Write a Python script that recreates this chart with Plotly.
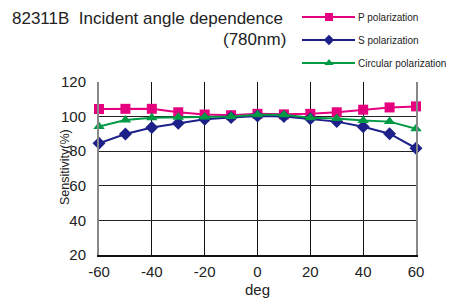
import plotly.graph_objects as go

VW, VH = 454, 303   # browser window
OFF = 8             # page body margin offset in the browser
W, H = VW - OFF, VH - OFF
angles = [-60, -50, -40, -30, -20, -10, 0, 10, 20, 30, 40, 50, 60]
p_pol = [104.4, 104.5, 104.5, 102.5, 101.2, 100.8, 101.6, 101.3, 101.6, 102.5, 104.0, 105.3, 105.9]
s_pol = [84.6, 89.9, 93.7, 96.2, 98.5, 99.5, 100.3, 100.1, 98.7, 97.1, 94.1, 90.1, 81.7]
c_pol = [94.3, 98.0, 99.3, 99.6, 99.8, 100.0, 101.0, 101.0, 99.4, 98.9, 97.7, 97.1, 93.0]
series_names = ["P polarization", "S polarization", "Circular polarization"]
colors = ["#E4007F", "#1D2088", "#009944"]
symbols = ["square", "diamond", "triangle-up"]
msizes = [10, 10, 10]
x_ticks = [-60, -40, -20, 0, 20, 40, 60]
x_ticktext = ["-60", "-40", "-20", "0", "20", "40", "60"]
y_ticks = [20, 40, 60, 80, 100, 120]

FONT = "Liberation Sans, Arial, sans-serif"

fig = go.Figure()
for name, vals, c, s, ms in zip(series_names, [p_pol, s_pol, c_pol], colors, symbols, msizes):
    fig.add_trace(go.Scatter(x=angles, y=vals, mode="lines+markers", name=name,
                             line=dict(color=c, width=2), marker=dict(symbol=s, size=ms, color=c),
                             showlegend=False, cliponaxis=False))

# legend samples on a full-figure pixel axis (screen coordinates)
leg_y = [17, 40, 63]
for name, c, s, ms, ly in zip(series_names, colors, symbols, msizes, leg_y):
    fig.add_trace(go.Scatter(x=[302, 355], y=[ly, ly], mode="lines", line=dict(color=c, width=2),
                             xaxis="x2", yaxis="y2", showlegend=False, hoverinfo="skip"))
    fig.add_trace(go.Scatter(x=[329], y=[ly], mode="markers", marker=dict(symbol=s, size=8, color=c),
                             xaxis="x2", yaxis="y2", showlegend=False, hoverinfo="skip"))
    fig.add_annotation(x=357, y=ly, xref="x2", yref="y2", text=name, showarrow=False,
                       xanchor="left", yanchor="middle", borderpad=0,
                       font=dict(family=FONT, size=10, color="#222"))

fig.add_annotation(x=11, y=OFF, xref="x2", yref="y2", text="82311B  Incident angle dependence",
                   showarrow=False, xanchor="left", yanchor="top", borderpad=0,
                   font=dict(family=FONT, size=17, color="#222"))
fig.add_annotation(x=288, y=47, xref="x2", yref="y2", text="(780nm)",
                   showarrow=False, xanchor="right", yanchor="bottom", yshift=-4,
                   font=dict(family=FONT, size=17, color="#222"))
fig.add_annotation(x=65, y=167, xref="x2", yref="y2", text="Sensitivity(%)", textangle=-90,
                   showarrow=False, xanchor="center", yanchor="middle",
                   font=dict(family=FONT, size=12.5, color="#222"))
fig.add_annotation(x=257, y=289, xref="x2", yref="y2", text="deg",
                   showarrow=False, xanchor="center", yanchor="middle",
                   font=dict(family=FONT, size=15, color="#222"))

x0, x1 = 99, 416
y0, y1 = 82, 255
fig.update_layout(
    template="none",
    width=W, height=H, margin=dict(l=0, r=0, t=0, b=0, pad=0), autosize=False,
    paper_bgcolor="white", plot_bgcolor="rgba(0,0,0,0)",
    font=dict(family=FONT, size=15, color="#222"),
    xaxis=dict(domain=[(x0 - OFF) / W, (x1 - OFF) / W], range=[-60, 60], tickvals=x_ticks,
               ticktext=x_ticktext,
               showgrid=True, gridcolor="#111", gridwidth=1, zeroline=False, automargin=False,
               showline=True, linecolor="#111", linewidth=1.5, ticks="", ticklabelstandoff=2,
               tickfont=dict(size=15)),
    yaxis=dict(domain=[1 - (y1 - OFF) / H, 1 - (y0 - OFF) / H], range=[20, 120], tickvals=y_ticks,
               showgrid=True, gridcolor="#222", gridwidth=1, zeroline=False, automargin=False,
               showline=True, linecolor="#888", linewidth=2, mirror=True, ticks="",
               ticklabelstandoff=8, tickfont=dict(size=15)),
    xaxis2=dict(domain=[0, 1], range=[OFF, OFF + W], visible=False, anchor="y2", fixedrange=True,
                automargin=False),
    yaxis2=dict(domain=[0, 1], range=[OFF + H, OFF], visible=False, anchor="x2", fixedrange=True,
                automargin=False),
)
fig.write_html("out.html")
